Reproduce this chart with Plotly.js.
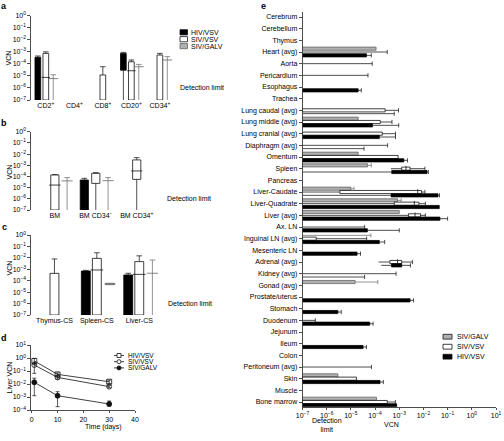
<!DOCTYPE html>
<html><head><meta charset="utf-8">
<script src="https://cdn.plot.ly/plotly-3.0.1.min.js"></script>
<style>html,body{margin:0;padding:0;background:#fff}#chart{width:504px;height:441px}</style>
</head><body><div id="chart"></div>
<script>
const N = null;
const AXMIN = 1e-7;
// Each row: [boxLow, boxHigh, median, whiskerLow, whiskerHigh]  (null = none / from axis)
// ---- Panel a ----
const catsA = ['CD2<sup>+</sup>','CD4<sup>+</sup>','CD8<sup>+</sup>','CD20<sup>+</sup>','CD34<sup>+</sup>'];
const aHIV = [[N,3.5e-4,N,N,4.5e-4],[N,N,N,N,N],[N,N,N,N,N],[3e-5,7.4e-4,N,1e-7,9e-4],[N,N,N,N,N]];
const aSIV = [[N,7.4e-4,7.5e-6,N,1e-3],[N,N,N,N,N],[N,1.2e-5,N,N,5.8e-5],[N,1.5e-4,2.7e-5,N,2.1e-4],[N,5.4e-4,N,N,7.4e-4]];
const aGALV = [[N,N,6e-6,N,1.26e-5],[N,N,N,N,N],[N,N,N,N,N],[N,N,5.8e-5,N,9e-5],[N,N,2.1e-4,N,4e-4]];
// ---- Panel b ----
const catsB = ['BM','BM CD34<sup>−</sup>','BM CD34<sup>+</sup>'];
const bHIV = [[N,N,N,N,N],[N,4.8e-5,N,N,6.8e-5],[N,N,N,N,N]];
const bSIV = [[N,1.35e-4,1.7e-5,N,1.5e-4],[2.4e-5,1.9e-4,N,1e-7,2.2e-4],[5.5e-5,3e-3,3.1e-4,1e-7,4.8e-3]];
const bGALV = [[N,N,4e-5,N,7.9e-5],[N,N,4.2e-5,N,7.9e-5],[N,N,N,N,N]];
// ---- Panel c ----
const catsC = ['Thymus-CS','Spleen-CS','Liver-CS'];
const cHIV = [[N,N,N,N,N],[N,7e-4,N,N,8e-4],[N,3.2e-4,N,N,4.5e-4]];
const cSIV = [[N,4.4e-4,N,N,8e-3],[N,9e-3,8.7e-4,N,2.8e-2],[N,4.7e-3,3.6e-4,N,1.5e-2]];
const cGALV = [[N,N,N,N,N],[4.5e-5,6e-5,5.2e-5,N,N],[N,N,4.5e-4,N,6.5e-3]];
// ---- Panel d ----
const dDays = [1,10,30];
const dHIV = [0.59,0.055,0.015], dHIVup = [0.34,0.015,0.005], dHIVdn = [0.27,0.01,0.004];
const dSIV = [0.29,0.032,0.0063], dSIVup = [0.18,0.008,0.0015], dSIVdn = [0.224,0.008,0.0012];
const dGALV = [0.0135,0.00126,0.00029], dGALVup = [0.0145,0.0013,0.0002], dGALVdn = [0.01224,0.00108,0.00009];
// ---- Panel e ----
const catsE = ['Cerebrum','Cerebellum','Thymus','Heart (avg)','Aorta','Pericardium','Esophagus','Trachea',
 'Lung caudal (avg)','Lung middle (avg)','Lung cranial (avg)','Diaphragm (avg)','Omentum','Spleen','Pancreas',
 'Liver-Caudate','Liver-Quadrate','Liver (avg)','Ax. LN','Inguinal LN (avg)','Mesenteric LN','Adrenal (avg)',
 'Kidney (avg)','Gonad (avg)','Prostate/uterus','Stomach','Duodenum','Jejunum','Ileum','Colon',
 'Peritoneum (avg)','Skin','Muscle','Bone marrow'];
const E0 = [N,N,N,N,N];
const eGALV = [E0,E0,E0,[N,1.1e-4,N,N,N],E0,E0,E0,E0,
 E0,[N,2e-5,N,N,N],E0,E0,[N,2e-5,N,N,N],[N,4.9e-5,N,N,7e-5],E0,
 [N,1e-5,N,N,1.35e-5],[N,8.5e-4,N,N,1.2e-3],[N,1e-3,N,N,N],E0,[N,N,N,N,6.7e-5],E0,E0,
 E0,[N,1.5e-5,N,N,1.3e-4],E0,E0,E0,E0,E0,E0,
 E0,[N,2.9e-6,N,N,N],E0,[N,1.15e-4,N,N,N]];
const eSIV = [E0,E0,E0,[N,N,N,N,3.2e-4],[N,N,N,N,7.6e-5],[N,N,N,N,5.1e-5],E0,E0,
 [N,2.6e-4,N,N,9.3e-4],[N,1.65e-4,N,N,5e-4],[N,2e-4,N,N,7e-4],[N,N,N,N,3.3e-4],[N,9e-4,N,N,N],[1.26e-3,2.8e-3,1.9e-3,4.5e-4,1.15e-2],E0,
 [3.5e-6,8.3e-3,5.8e-3,1e-7,1.15e-2],[6.2e-4,6.5e-3,4.2e-3,1e-7,1.2e-2],[2.4e-3,7.6e-3,4.5e-3,1e-7,1.2e-2],[N,N,N,N,3.7e-5],[N,3.7e-7,N,N,4.5e-5],E0,[4.1e-4,1.26e-3,8.5e-4,1.4e-4,3.5e-3],
 [N,N,N,N,7.4e-4],E0,E0,E0,[N,N,N,N,3.4e-7],E0,E0,E0,
 [N,N,N,N,7.1e-5],[N,1.7e-5,N,N,N],E0,[N,3.2e-4,N,N,6.9e-4]];
const eHIV = [E0,E0,E0,[N,4.4e-5,N,N,7e-5],E0,E0,[N,2e-5,N,N,2.7e-5],E0,
 [N,N,N,N,6.2e-4],[N,7.8e-5,N,N,9.5e-4],[N,1.5e-4,N,N,7e-4],[N,N,N,N,3.5e-5],[N,1.55e-3,N,N,2.2e-3],[4.9e-4,1.4e-2,N,1e-7,1.6e-2],E0,
 [4.6e-4,4e-2,N,1e-7,4.6e-2],[N,4.5e-2,N,N,N],[N,4.8e-2,N,N,1e-1],[N,4.8e-5,N,N,1e-3],[N,1.5e-4,N,N,2.5e-4],[N,1.8e-5,N,N,2.5e-5],[4.8e-4,1.26e-3,N,1.8e-4,2.9e-3],
 [N,N,N,N,3.7e-5],E0,[N,2.8e-3,N,N,3.9e-3],[N,2.9e-6,N,N,4e-6],[N,6e-5,N,N,8.3e-5],E0,[N,3.2e-5,N,N,4.4e-5],E0,
 E0,[N,1.6e-4,N,N,2.2e-4],E0,[N,7.8e-4,N,N,N]];
const seriesNames = ['HIV/VSV','SIV/VSV','SIV/GALV'];

// ---------- styles ----------
const W = 504, H = 441;
const px = p => p / W, py = p => 1 - p / H;
const FAM = 'Liberation Sans, Arial, sans-serif';
const font7 = {family: FAM, size: 7, color: '#000'};
const STY = {
  HIV: {fill: '#000', line: '#000', wcol: '#222'},
  SIV: {fill: '#fff', line: '#111', wcol: '#222'},
  GALV: {fill: '#b0b0b0', line: '#666', wcol: '#777'}
};
const traces = [];
function addSeries(rows, offset, xa, ya, horiz, sty, bw, medSize, capSize) {
  const P = [], L = [], B = [], sP = [], sV = [], cP = [], cV = [], mP = [], mV = [];
  rows.forEach((r, i) => {
    const [lo, hi, med, wlo, whi] = r;
    const p = i + offset;
    if (hi != null) { const b = lo != null ? lo : AXMIN; P.push(p); L.push(hi - b); B.push(b); }
    if (whi != null) { const s = hi != null ? hi : AXMIN; sP.push(p, p, null); sV.push(s, whi, null); cP.push(p); cV.push(whi); }
    if (lo != null && wlo != null) { sP.push(p, p, null); sV.push(wlo, lo, null); }
    if (med != null) { mP.push(p); mV.push(med); }
  });
  const xy = (pp, vv) => horiz ? {x: vv, y: pp} : {x: pp, y: vv};
  const common = {xaxis: xa, yaxis: ya, showlegend: false, hoverinfo: 'skip'};
  traces.push(Object.assign({type: 'bar', orientation: horiz ? 'h' : 'v', base: B, width: bw,
    marker: {color: sty.fill, line: {color: sty.line, width: 0.8}}}, xy(P, L), common));
  traces.push(Object.assign({type: 'scatter', mode: 'lines', connectgaps: false,
    line: {color: sty.wcol, width: 0.8}}, xy(sP, sV), common));
  const sym = horiz ? 'line-ns' : 'line-ew';
  traces.push(Object.assign({type: 'scatter', mode: 'markers',
    marker: {symbol: sym, size: capSize, color: sty.wcol, line: {color: sty.wcol, width: 0.8}}}, xy(cP, cV), common));
  traces.push(Object.assign({type: 'scatter', mode: 'markers',
    marker: {symbol: sym, size: medSize, color: '#111', line: {color: sty.wcol === '#777' ? '#666' : '#111', width: 0.8}}}, xy(mP, mV), common));
}
// panel a
addSeries(aHIV, -0.28, 'x', 'y', false, STY.HIV, 0.2, 6, 4);
addSeries(aSIV, 0, 'x', 'y', false, STY.SIV, 0.2, 6, 4);
addSeries(aGALV, 0.26, 'x', 'y', false, STY.GALV, 0.2, 7, 4);
// panel b
addSeries(bHIV, -0.28, 'x2', 'y2', false, STY.HIV, 0.2, 8, 4);
addSeries(bSIV, 0, 'x2', 'y2', false, STY.SIV, 0.2, 8, 4);
addSeries(bGALV, 0.3, 'x2', 'y2', false, STY.GALV, 0.2, 8, 4);
// panel c
addSeries(cHIV, -0.26, 'x3', 'y3', false, STY.HIV, 0.21, 9, 4);
addSeries(cSIV, 0, 'x3', 'y3', false, STY.SIV, 0.21, 9, 4);
addSeries(cGALV, 0.31, 'x3', 'y3', false, STY.GALV, 0.21, 8, 4);
// panel e (horizontal)
addSeries(eGALV, -0.285, 'x5', 'y5', true, STY.GALV, 0.27, 4, 3);
addSeries(eSIV, 0, 'x5', 'y5', true, STY.SIV, 0.27, 4, 3);
addSeries(eHIV, 0.285, 'x5', 'y5', true, STY.HIV, 0.27, 4, 3);
// panel d
function addLine(y, up, dn, sym) {
  traces.push({type: 'scatter', mode: 'lines+markers', x: dDays, y: y, xaxis: 'x4', yaxis: 'y4', showlegend: false, hoverinfo: 'skip',
    line: {color: '#111', width: 0.8},
    marker: {symbol: sym, size: 5, color: '#111', line: {color: '#111', width: 0.8}},
    error_y: {type: 'data', symmetric: false, array: up, arrayminus: dn, color: '#111', thickness: 0.7, width: 2}});
}
addLine(dHIV, dHIVup, dHIVdn, 'square-open');
addLine(dSIV, dSIVup, dSIVdn, 'circle-open');
addLine(dGALV, dGALVup, dGALVdn, 'circle');

// ---------- axes ----------
function powTicks(exps) {
  return {tickmode: 'array', tickvals: exps.map(e => Math.pow(10, e)),
    ticktext: exps.map(e => '10<sup>' + (e < 0 ? '−' + (-e) : e) + '</sup>')};
}
const expsABC = [0, -1, -2, -3, -4, -5, -6, -7];
const lineAx = {showline: true, linecolor: '#222', linewidth: 0.8, ticks: 'outside', ticklen: 2.5, tickwidth: 0.8,
  tickcolor: '#222', showgrid: false, zeroline: false, tickfont: font7, fixedrange: true};
const logY = (dom, anchor, range, exps) => Object.assign({}, lineAx, {type: 'log', range, domain: dom, anchor}, powTicks(exps));
const catX = (dom, anchor, range, cats) => ({domain: dom, anchor, range, tickmode: 'array', tickvals: cats.map((c, i) => i),
  ticktext: cats, showline: false, ticks: '', showgrid: false, zeroline: false, tickfont: font7, fixedrange: true});

const domA = [px(30.7), px(175)], domB = [px(30.7), px(161.7)], domC = [px(30.7), px(163)];
const domD = [px(30.7), px(135)], domE = [px(302.5), px(496)];
const layout = {
  width: W, height: H, margin: {l: 0, r: 0, t: 0, b: 0}, paper_bgcolor: '#fff', plot_bgcolor: 'rgba(0,0,0,0)',
  barmode: 'overlay', showlegend: false, font: font7,
  xaxis: catX(domA, 'y', [-0.53, 4.53], catsA),
  yaxis: logY([py(100), py(15.7)], 'x', [-7, 0], expsABC),
  xaxis2: catX(domB, 'y2', [-0.59, 2.61], catsB),
  yaxis2: logY([py(210), py(131.7)], 'x2', [-7, 0], expsABC),
  xaxis3: catX(domC, 'y3', [-0.56, 2.56], catsC),
  yaxis3: logY([py(315), py(235)], 'x3', [-7, 0], expsABC),
  xaxis4: Object.assign({}, lineAx, {domain: domD, anchor: 'y4', range: [-0.4, 40], tickmode: 'array', tickvals: [0, 10, 20, 30, 40]}),
  yaxis4: logY([py(410), py(345)], 'x4', [-4, 1], [1, 0, -1, -2, -3, -4]),
  xaxis5: Object.assign({}, lineAx, {type: 'log', domain: domE, anchor: 'y5', range: [-7, 1]}, powTicks([-7, -6, -5, -4, -3, -2, -1, 0, 1])),
  yaxis5: Object.assign({}, lineAx, {domain: [py(406.7), py(11.75)], anchor: 'x5', range: [33.4, -0.45], tickmode: 'array',
    tickvals: catsE.map((c, i) => i), ticktext: catsE, ticklen: 3}),
  shapes: [], annotations: []
};
const S = layout.shapes, A = layout.annotations;
// detection limit lines
[['y', domA], ['y2', domB], ['y3', domC]].forEach(([ya, dom]) => {
  S.push({type: 'line', xref: 'paper', yref: ya, x0: dom[0], x1: dom[1], y0: -6, y1: -6, line: {color: '#111', width: 0.9, dash: 'dot'}});
  A.push({xref: 'paper', yref: ya, x: dom[1] + px(3), y: -6, text: 'Detection limit', showarrow: false, xanchor: 'left', yanchor: 'middle', font: font7});
});
S.push({type: 'line', xref: 'x5', yref: 'paper', x0: -6, x1: -6, y0: py(406.7), y1: py(11.75), line: {color: '#111', width: 0.9, dash: 'dot'}});
// panel letters
[['a', 4, 6], ['b', 4, 123], ['c', 4, 227], ['d', 4, 338], ['e', 263, 6]].forEach(([t, x, y]) => {
  A.push({xref: 'paper', yref: 'paper', x: px(x), y: py(y), text: '<b>' + t + '</b>', showarrow: false, xanchor: 'center', yanchor: 'middle',
    font: {family: FAM, size: 9, color: '#000'}});
});
// y titles
[['VCN', 58], ['VCN', 172], ['VCN', 268], ['Liver VCN', 378]].forEach(([t, y]) => {
  A.push({xref: 'paper', yref: 'paper', x: px(8.5), y: py(y), text: t, textangle: -90, showarrow: false, xanchor: 'center', yanchor: 'middle', font: font7});
});
A.push({xref: 'paper', yref: 'paper', x: px(83), y: py(432.5), text: 'Time (days)', showarrow: false, font: font7});
A.push({xref: 'paper', yref: 'paper', x: px(327), y: py(434.5), text: 'Detection<br>limit', showarrow: false, font: font7});
A.push({xref: 'paper', yref: 'paper', x: px(401), y: py(429.5), text: 'VCN', showarrow: false, font: font7});
// legend a
const legFill = [STY.HIV, STY.SIV, STY.GALV];
seriesNames.forEach((n, k) => {
  const yc = 32.3 + k * 6.9;
  S.push({type: 'rect', xref: 'paper', yref: 'paper', x0: px(180), x1: px(187.5), y0: py(yc + 2.6), y1: py(yc - 2.6),
    fillcolor: legFill[k].fill, line: {color: k === 2 ? '#666' : '#111', width: 0.8}});
  A.push({xref: 'paper', yref: 'paper', x: px(189), y: py(yc), text: n, showarrow: false, xanchor: 'left', yanchor: 'middle', font: font7});
});
// legend e (GALV, SIV, HIV top to bottom)
[2, 1, 0].forEach((k, j) => {
  const yc = 336.7 + j * 10;
  S.push({type: 'rect', xref: 'paper', yref: 'paper', x0: px(443), x1: px(452), y0: py(yc + 2.4), y1: py(yc - 2.4),
    fillcolor: legFill[k].fill, line: {color: '#111', width: 0.8}});
  A.push({xref: 'paper', yref: 'paper', x: px(454.5), y: py(yc), text: seriesNames[k], showarrow: false, xanchor: 'left', yanchor: 'middle', font: font7});
});
// legend d
seriesNames.forEach((n, k) => {
  const yc = 355.5 + k * 6.2;
  S.push({type: 'line', xref: 'paper', yref: 'paper', x0: px(114), x1: px(124), y0: py(yc), y1: py(yc), line: {color: '#111', width: 0.8}});
  const m = {xref: 'paper', yref: 'paper', x0: px(117), x1: px(121), y0: py(yc + 2), y1: py(yc - 2), line: {color: '#111', width: 0.8}};
  if (k === 0) S.push(Object.assign({type: 'rect', fillcolor: '#fff'}, m));
  else if (k === 1) S.push(Object.assign({type: 'circle', fillcolor: '#fff'}, m));
  else S.push(Object.assign({type: 'circle', fillcolor: '#111'}, m));
  A.push({xref: 'paper', yref: 'paper', x: px(126), y: py(yc), text: n, showarrow: false, xanchor: 'left', yanchor: 'middle',
    font: {family: FAM, size: 6.5, color: '#000'}});
});
Plotly.newPlot('chart', traces, layout, {staticPlot: true, displayModeBar: false});
</script></body></html>
